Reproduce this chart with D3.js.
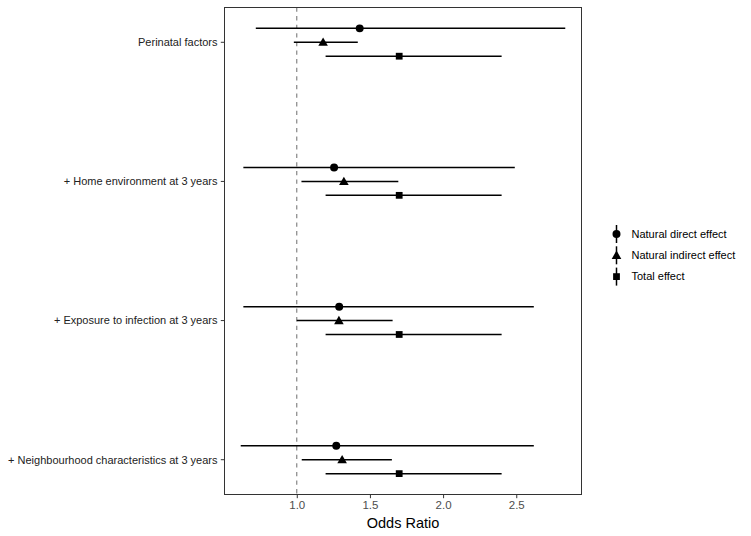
<!DOCTYPE html>
<html>
<head>
<meta charset="utf-8">
<script src="https://cdn.jsdelivr.net/npm/d3@7"></script>
<style>
  html, body { margin: 0; padding: 0; background: #fff; }
  svg { display: block; font-family: "Liberation Sans", Arial, Helvetica, sans-serif; }
</style>
</head>
<body>
<svg id="chart" width="751" height="536"></svg>
<script>
const categories = ["Perinatal factors", "+ Home environment at 3 years", "+ Exposure to infection at 3 years", "+ Neighbourhood characteristics at 3 years"];
const effects = ["Natural direct effect", "Natural indirect effect", "Total effect"];
const ndeOR = [1.43, 1.255, 1.29, 1.27];
const ndeLo = [0.72, 0.635, 0.635, 0.617];
const ndeHi = [2.835, 2.49, 2.62, 2.62];
const nieOR = [1.18, 1.322, 1.288, 1.31];
const nieLo = [0.98, 1.032, 1.0, 1.034];
const nieHi = [1.417, 1.694, 1.655, 1.65];
const teOR = [1.70, 1.70, 1.70, 1.70];
const teLo = [1.197, 1.197, 1.197, 1.197];
const teHi = [2.40, 2.40, 2.40, 2.40];
const xTicks = [1.0, 1.5, 2.0, 2.5];
const refLine = 1.0;

const series = [
  {name: effects[0], or: ndeOR, lo: ndeLo, hi: ndeHi, sym: d3.symbolCircle, size: 50, off: -0.1},
  {name: effects[1], or: nieOR, lo: nieLo, hi: nieHi, sym: d3.symbolTriangle, size: 40, off: 0},
  {name: effects[2], or: teOR, lo: teLo, hi: teHi, sym: d3.symbolSquare, size: 46, off: 0.1}
];

const svg = d3.select("#chart");
const P = {left: 224.5, right: 581.5, top: 7.5, bottom: 494.5};

const allLo = d3.min(series, s => d3.min(s.lo));
const allHi = d3.max(series, s => d3.max(s.hi));
const pad = (allHi - allLo) * 0.05;
const x = d3.scaleLinear().domain([allLo - pad, allHi + pad]).range([P.left, P.right]);
const y = d3.scaleLinear().domain([0.75, categories.length + 0.25]).range([P.top, P.bottom]);

// reference line
svg.append("line")
  .attr("x1", x(refLine)).attr("x2", x(refLine))
  .attr("y1", P.top).attr("y2", P.bottom)
  .attr("stroke", "#7a7a7a").attr("stroke-width", 1.1)
  .attr("stroke-dasharray", "4.3,4.3");

// marks
series.forEach(s => {
  const g = svg.append("g");
  categories.forEach((c, i) => {
    const yy = y(i + 1 + s.off);
    g.append("line")
      .attr("x1", x(s.lo[i])).attr("x2", x(s.hi[i]))
      .attr("y1", yy).attr("y2", yy)
      .attr("stroke", "#000").attr("stroke-width", 1.5);
    g.append("path")
      .attr("d", d3.symbol().type(s.sym).size(s.size)())
      .attr("transform", `translate(${x(s.or[i])},${yy + (s.sym === d3.symbolTriangle ? 0.8 : 0)})`)
      .attr("fill", "#000");
  });
});

// panel border
svg.append("rect")
  .attr("x", P.left).attr("y", P.top)
  .attr("width", P.right - P.left).attr("height", P.bottom - P.top)
  .attr("fill", "none").attr("stroke", "#333").attr("stroke-width", 1);

// x axis
const xAxis = d3.axisBottom(x).tickValues(xTicks).tickFormat(d3.format(".1f")).tickSize(3.7).tickPadding(3);
const gx = svg.append("g").attr("transform", `translate(0,${P.bottom})`).call(xAxis);
gx.select(".domain").remove();
gx.selectAll(".tick line").attr("stroke", "#333");
gx.selectAll(".tick text").attr("fill", "#4d4d4d").attr("font-size", 11.5).attr("font-family", "Liberation Sans, Arial, sans-serif");

// y axis
const gy = svg.append("g").attr("transform", `translate(${P.left},0)`);
categories.forEach((c, i) => {
  const yy = y(i + 1);
  gy.append("line").attr("x1", -3.7).attr("x2", 0).attr("y1", yy).attr("y2", yy).attr("stroke", "#333");
  gy.append("text").attr("x", -7).attr("y", yy).attr("dy", "0.35em")
    .attr("text-anchor", "end").attr("font-size", 11).attr("fill", "#222").text(c);
});

// x title
svg.append("text")
  .attr("x", (P.left + P.right) / 2).attr("y", 528)
  .attr("text-anchor", "middle").attr("font-size", 14.5).attr("fill", "#000")
  .text("Odds Ratio");

// legend
const lg = svg.append("g").attr("transform", "translate(616.5,234)");
series.forEach((s, i) => {
  const r = lg.append("g").attr("transform", `translate(0,${i * 21.3})`);
  r.append("line").attr("x1", 0).attr("x2", 0).attr("y1", -9).attr("y2", 9)
    .attr("stroke", "#000").attr("stroke-width", 1.5);
  r.append("path").attr("d", d3.symbol().type(s.sym).size(s.size)())
    .attr("transform", `translate(0,${s.sym === d3.symbolTriangle ? 0.8 : 0})`).attr("fill", "#000");
  r.append("text").attr("x", 15).attr("y", 0).attr("dy", "0.35em")
    .attr("font-size", 11).attr("fill", "#000").text(s.name);
});
</script>
</body>
</html>
